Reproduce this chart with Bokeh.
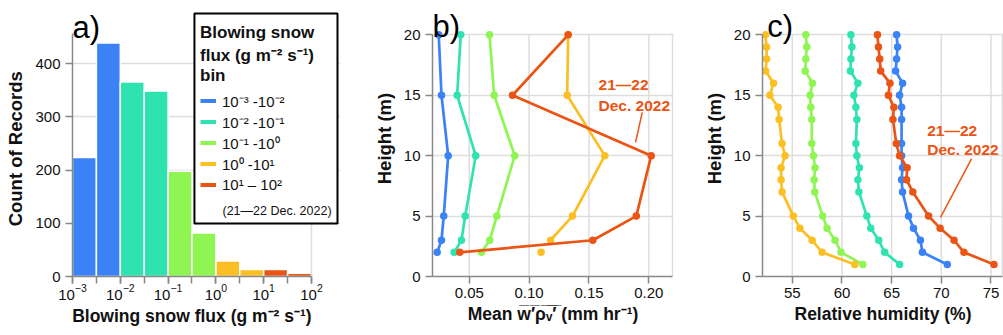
import numpy as np
from bokeh.plotting import figure
from bokeh.layouts import row
from bokeh.models import (FixedTicker, Legend, LegendItem, Label, Range1d,
                          PrintfTickFormatter, BoxAnnotation)
from bokeh.embed import file_html
from bokeh.resources import INLINE

FONT = "Liberation Sans"
TXT = "#111111"
GRID = "#dddddd"
ORANGE_NOTE = "#EA5414"

# flux bins (g m-2 s-1) and their colours
bin_colors = ["#3B82F6", "#2FE3B1", "#8FF553", "#FBBF24", "#EA5414"]
bin_labels = ["10⁻³ -10⁻²", "10⁻² -10⁻¹", "10⁻¹ -10⁰", "10⁰ -10¹", "10¹ – 10²"]

# a) histogram of records, half-decade bins
edge_exponents = [-3.0, -2.5, -2.0, -1.5, -1.0, -0.5, 0.0, 0.5, 1.0, 1.5, 2.0]
record_counts = [224, 439, 366, 349, 198, 82, 29, 13, 13, 6]
decade_ticks = [0.001, 0.01, 0.1, 1, 10, 100]
count_ticks = [0, 100, 200, 300, 400]
count_axis_max = 457

# b) mean vapour flux profile (mm hr-1) per bin
heights_b = [2, 3, 5, 10, 15, 20]
wrho_blue = [0.0232, 0.0268, 0.0287, 0.0324, 0.0268, 0.0245]
wrho_teal = [0.0374, 0.0435, 0.0466, 0.0554, 0.0399, 0.0429]
wrho_green = [0.0602, 0.0671, 0.0730, 0.0880, 0.0708, 0.0669]
wrho_yellow = [0.1100, 0.1179, 0.1362, 0.1632, 0.1318, 0.1326]
wrho_orange = [0.0421, 0.1532, 0.1895, 0.2020, 0.0861, 0.1326]
wrho_ticks = [0.05, 0.10, 0.15, 0.20]
wrho_axis = (0.0193, 0.2198)

# c) relative humidity profile (%) per bin
heights_c = [1, 2, 3, 4, 5, 7, 8, 9, 10, 11, 13, 14, 15, 16, 17, 18, 19, 20]
rh_blue = [70.6, 68.1, 67.9, 67.2, 66.7, 66.1, 66.0, 66.1, 66.0, 66.0,
           66.0, 66.0, 65.8, 66.1, 65.4, 65.5, 65.6, 65.5]
rh_teal = [65.8, 64.3, 63.7, 62.9, 62.5, 61.7, 61.6, 61.75, 61.5, 61.4,
           61.5, 61.4, 61.2, 61.6, 60.85, 60.9, 61.0, 60.9]
rh_green = [62.1, 59.9, 59.3, 58.5, 58.06, 57.26, 57.19, 57.29, 57.13, 56.96,
            56.96, 56.86, 56.79, 57.03, 56.3, 56.36, 56.46, 56.36]
rh_yellow = [61.3, 58.0, 57.0, 55.76, 55.1, 53.97, 53.87, 53.87, 54.27, 53.97,
             53.67, 53.57, 52.74, 53.11, 52.31, 52.41, 52.41, 52.28]
rh_orange = [75.3, 72.28, 71.28, 69.88, 68.72, 67.13, 66.5, 66.56, 65.8, 65.47,
             65.13, 65.23, 64.67, 64.83, 63.9, 63.8, 63.67, 63.57]
rh_ticks = [55, 60, 65, 70, 75]
rh_axis = (52.0, 76.15)

height_ticks = [0, 5, 10, 15, 20]
height_axis = (0, 20)


def style_axes(p, xlabel_size="17.5px", ylabel_size="18.5px"):
    p.outline_line_color = None
    p.background_fill_color = "white"
    p.border_fill_color = "white"
    for ax in p.axis:
        ax.axis_line_color = "#888888"
        ax.axis_line_width = 1.5
        ax.major_tick_line_color = "#888888"
        ax.major_tick_line_width = 1.5
        ax.major_tick_out = 7
        ax.major_tick_in = 0
        ax.minor_tick_line_color = None
        ax.major_label_text_font = FONT
        ax.major_label_text_font_size = "15px"
        ax.major_label_text_color = TXT
        ax.axis_label_text_font = FONT
        ax.axis_label_text_font_style = "bold"
        ax.axis_label_text_color = TXT
    p.xaxis.axis_label_text_font_size = xlabel_size
    p.yaxis.axis_label_text_font_size = ylabel_size
    for g in p.grid:
        g.grid_line_color = GRID
        g.grid_line_width = 1.5


def letter(p, x, y, text):
    p.add_layout(Label(x=x, y=y, text=text, text_font=FONT, text_font_size="31px",
                       text_color="black", text_align="left",
                       text_baseline="alphabetic"))


def note(p, x, y_top, y_bot, size):
    for yy, t in ((y_top, "21—22"), (y_bot, "Dec. 2022")):
        p.add_layout(Label(x=x, y=yy, text=t, text_font=FONT, text_font_size=size,
                           text_font_style="bold", text_color=ORANGE_NOTE,
                           text_align="left", text_baseline="middle"))


def profile_frame(p, xticks, xaxis_span):
    """Vertical grid lines and right border limited to the 0-20 m data area."""
    p.xgrid.visible = False
    gx = list(xticks) + [xaxis_span[1]]
    p.segment(x0=gx, y0=[height_axis[0]] * len(gx), x1=gx,
              y1=[height_axis[1]] * len(gx), line_color=GRID, line_width=1.5)
    p.xaxis.ticker = FixedTicker(ticks=xticks)
    p.yaxis.ticker = FixedTicker(ticks=height_ticks)
    p.xaxis.bounds = xaxis_span
    p.yaxis.bounds = height_axis
    p.yaxis.axis_label = "Height (m)"
    p.xaxis.major_label_standoff = 4
    p.xaxis.axis_label_standoff = 3
    p.yaxis.major_label_standoff = 5
    p.yaxis.axis_label_standoff = 6


# ---------------- a) histogram ----------------
edges = 10.0 ** np.array(edge_exponents)
bar_colors = [bin_colors[i // 2] for i in range(len(record_counts))]

# frames reach the figure top so panel letters and the legend box fit inside;
# axes and grid lines stop at the data extent
pa = figure(width=340, height=335, x_axis_type="log", title_location=None,
            x_range=Range1d(1e-3, 10 ** 2.607), y_range=Range1d(0, 519.1),
            output_backend="svg", toolbar_location=None,
            min_border_left=72, min_border_right=0,
            min_border_top=0, min_border_bottom=59)
pa.quad(left=edges[:-1], right=edges[1:], bottom=0, top=record_counts,
        fill_color=bar_colors, line_color="white", line_width=1.5)
style_axes(pa)
pa.segment(x0=[decade_ticks[-1]], y0=[0], x1=[decade_ticks[-1]], y1=[count_axis_max],
           line_color=GRID, line_width=1.5)
pa.xgrid.visible = False
pa.xaxis.bounds = (decade_ticks[0], decade_ticks[-1])
pa.yaxis.bounds = (0, count_axis_max)
pa.xaxis.ticker = FixedTicker(ticks=decade_ticks, minor_ticks=list(edges))
pa.xaxis.minor_tick_line_color = "#888888"
pa.xaxis.minor_tick_line_width = 1.5
pa.xaxis.minor_tick_out = 7
pa.xaxis.minor_tick_in = 0
pa.yaxis.ticker = FixedTicker(ticks=count_ticks)
pa.xaxis.axis_label = "Blowing snow flux (g m⁻² s⁻¹)" + "\u00a0" * 6
pa.yaxis.axis_label = "Count of Records" + "\u00a0" * 4
pa.xaxis.major_label_standoff = 0
pa.xaxis.axis_label_standoff = 3
pa.yaxis.major_label_standoff = 5
pa.yaxis.axis_label_standoff = 6

# legend frame: white box with a black border behind the legend entries
pa.add_layout(BoxAnnotation(left=0.356, right=350, bottom=99.7, top=494.6,
                            fill_color="white", fill_alpha=1,
                            line_color="black", line_width=2, line_alpha=1))

legend_items = []
for c, lab in zip(bin_colors, bin_labels):
    r = pa.line(x=[np.nan], y=[np.nan], line_color=c, line_width=4)
    legend_items.append(LegendItem(label=lab, renderers=[r]))
blank = pa.line(x=[np.nan], y=[np.nan], line_alpha=0)
legend_items.append(LegendItem(label="\u00a0", renderers=[blank]))
legend = Legend(items=legend_items, location=(128, 60),
                title="Blowing snow\nflux (g m⁻² s⁻¹)\nbin",
                title_text_font=FONT, title_text_font_style="bold",
                title_text_font_size="17px", title_text_color=TXT,
                title_standoff=4,
                label_text_font=FONT, label_text_font_size="15px",
                label_text_color=TXT,
                glyph_width=16, glyph_height=21, label_height=21,
                label_width=105, label_standoff=6, spacing=0,
                padding=8, margin=0,
                border_line_color=None, background_fill_alpha=0)
pa.add_layout(legend, "center")
pa.add_layout(Label(x=1.374, y=124, text="(21—22 Dec. 2022)", text_font=FONT,
                    text_font_size="12.5px", text_color=TXT,
                    text_align="left", text_baseline="middle"))
letter(pa, decade_ticks[0], 469, "a)")

# ---------------- b) vapour flux profiles ----------------
pb = figure(width=335, height=335, title_location=None,
            x_range=Range1d(wrho_axis[0], 0.2206), y_range=Range1d(0, 22.84),
            output_backend="svg", toolbar_location=None,
            min_border_left=92, min_border_right=2,
            min_border_top=0, min_border_bottom=59)
style_axes(pb)
profile_frame(pb, wrho_ticks, wrho_axis)
pb.xaxis.formatter = PrintfTickFormatter(format="%.2f")
pb.xaxis.axis_label = ("Mean w\u0305\u2032\u0305\u03c1\u0305\u1d65\u0305\u2032\u0305"
                       " (mm hr⁻¹)")

for xs, c in zip([wrho_blue, wrho_teal, wrho_green], bin_colors[:3]):
    pb.line(xs, heights_b, line_color=c, line_width=2.7)
    pb.scatter(xs, heights_b, size=7.5, fill_color=c, line_color=None)
# the 2 m value of the 10^0-10^1 bin stands alone
pb.line(wrho_yellow[1:], heights_b[1:], line_color=bin_colors[3], line_width=2.7)
pb.scatter(wrho_yellow, heights_b, size=7.5, fill_color=bin_colors[3], line_color=None)
pb.line(wrho_orange, heights_b, line_color=bin_colors[4], line_width=2.7)
pb.scatter(wrho_orange, heights_b, size=7.5, fill_color=bin_colors[4], line_color=None)

note(pb, 0.158, 15.87, 14.13, "15.5px")
pb.segment(x0=[0.1945], y0=[13.58], x1=[0.1889], y1=[11.1],
           line_color=ORANGE_NOTE, line_width=1.5)
letter(pb, wrho_axis[0], 20.69, "b)")

# ---------------- c) relative humidity profiles ----------------
pc = figure(width=328, height=335, title_location=None,
            x_range=Range1d(rh_axis[0], 76.26), y_range=Range1d(0, 22.84),
            output_backend="svg", toolbar_location=None,
            min_border_left=87, min_border_right=0,
            min_border_top=0, min_border_bottom=59)
style_axes(pc)
profile_frame(pc, rh_ticks, rh_axis)
pc.xaxis.axis_label = "Relative humidity (%)"

for xs, c in zip([rh_blue, rh_teal, rh_green, rh_yellow, rh_orange], bin_colors):
    pc.line(xs, heights_c, line_color=c, line_width=2.7)
    pc.scatter(xs, heights_c, size=7.5, fill_color=c, line_color=None)

note(pc, 68.58, 12.07, 10.5, "15.5px")
pc.segment(x0=[73.04], y0=[9.73], x1=[69.92], y1=[4.9],
           line_color=ORANGE_NOTE, line_width=1.5)
letter(pc, 52.47, 20.69, "c)")

layout = row(pa, pb, pc, spacing=0)
open("out.html", "w").write(file_html(layout, INLINE))
